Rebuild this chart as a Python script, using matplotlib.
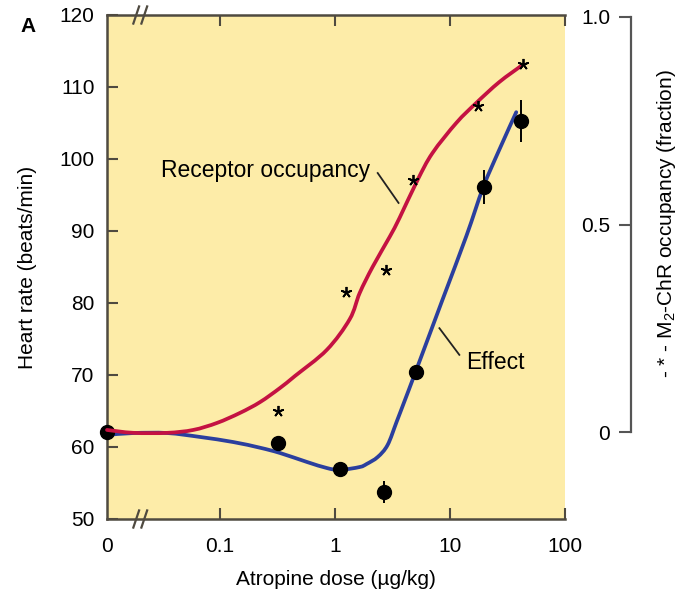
import numpy as np
import matplotlib
matplotlib.use("Agg")
import matplotlib.pyplot as plt
from matplotlib.path import Path
from matplotlib.patches import PathPatch

plt.rcParams['font.family'] = ['Liberation Sans', 'DejaVu Sans']
plt.rcParams['mathtext.fontset'] = 'custom'
plt.rcParams['mathtext.rm'] = 'Liberation Sans'
plt.rcParams['mathtext.default'] = 'regular'

# dose "0" is drawn at the left edge of the log axis
ZERO_POS = 0.0105

# measured heart rate (effect), dots with error bars
effect_dose = [ZERO_POS, 0.32, 1.12, 2.66, 5.1, 19.9, 41.7]
effect_hr = [62.1, 60.6, 56.9, 53.75, 70.4, 96.1, 105.3]
effect_err = [0, 0, 0, 1.5, 0, 2.4, 2.9]

# receptor occupancy measurements (stars)
occ_dose = [0.32, 1.26, 2.76, 4.8, 17.7, 43.0]
occ_frac = [0.051, 0.337, 0.39, 0.607, 0.786, 0.887]

# fitted effect curve (blue)
effect_curve_dose = [ZERO_POS, 0.0178, 0.0351, 0.0678, 0.131, 0.224, 0.334, 0.573,
                     0.853, 1.105, 1.646, 1.892, 2.36, 2.876, 3.44, 4.04, 5.03, 8.61,
                     13.9, 19.5, 26.8, 37.7]
effect_curve_hr = [61.67, 61.94, 61.94, 61.39, 60.69, 59.9, 59.17, 57.92,
                   57.08, 56.81, 57.22, 57.64, 58.61, 60.28, 63.47, 66.39, 70.42, 80.42,
                   89.3, 96.1, 101.25, 106.5]

# fitted occupancy curve (red)
occ_curve_dose = [ZERO_POS, 0.0178, 0.0351, 0.059, 0.095, 0.150, 0.224, 0.334, 0.451,
                  0.853, 1.349, 1.646, 2.133, 2.994, 3.655, 5.233, 7.05, 11.39,
                  16.96, 26.8, 42.5]
occ_curve_frac = [0.005, -0.002, -0.002, 0.005, 0.022, 0.046, 0.072, 0.106, 0.135,
                  0.198, 0.272, 0.335, 0.398, 0.470, 0.516, 0.607, 0.672, 0.745,
                  0.793, 0.843, 0.884]

x_ticks = [ZERO_POS, 0.1, 1, 10, 100]
x_labels = ['0', '0.1', '1', '10', '100']
hr_ticks = [50, 60, 70, 80, 90, 100, 110, 120]
occ_ticks = [0, 0.5, 1.0]
occ_labels = ['0', '0.5', '1.0']

bg = '#FDECA8'
spine_c = '#4f4a40'
red = '#C41242'
blue = '#2B3F9E'
fs = 15
fs_note = 16.5


def smooth_path(xs, ys):
    # bezier path through the points (catmull-rom tangents, in log-x space)
    lx = np.log10(xs)
    y = np.asarray(ys, float)
    p = np.column_stack([lx, y])
    pp = np.vstack([p[0], p, p[-1]])
    verts = [p[0]]
    codes = [Path.MOVETO]
    for i in range(len(p) - 1):
        c1 = pp[i + 1] + (pp[i + 2] - pp[i]) / 6
        c2 = pp[i + 2] - (pp[i + 3] - pp[i + 1]) / 6
        verts += [c1, c2, p[i + 1]]
        codes += [Path.CURVE4] * 3
    verts = np.array(verts)
    verts[:, 0] = 10 ** verts[:, 0]
    return Path(verts, codes)


fig = plt.figure(figsize=(6.81, 5.93), dpi=100)
L, B, W, H = 107/681, 74/593, 458/681, 504/593
ax = fig.add_axes([L, B, W, H])
ax.set_facecolor(bg)
ax.set_xscale('log')
ax.set_xlim(ZERO_POS, 100)
ax.set_ylim(50, 120)
ax.minorticks_off()
ax.set_xticks(x_ticks)
ax.set_xticklabels(x_labels)
ax.set_yticks(hr_ticks)
ax.tick_params(direction='in', length=8, width=1.5, color=spine_c,
               labelsize=fs, top=True)
ax.tick_params(axis='x', pad=13)
ax.tick_params(axis='y', pad=9)
ax.xaxis.get_major_ticks()[0].tick1line.set_visible(False)
ax.xaxis.get_major_ticks()[0].tick2line.set_visible(False)
ax.spines['right'].set_visible(False)
for s in ['left', 'bottom', 'top']:
    ax.spines[s].set_color(spine_c)
    ax.spines[s].set_linewidth(1.8)
ax.set_ylabel('Heart rate (beats/min)', fontsize=fs, labelpad=16)
ax.set_xlabel('Atropine dose (\u00b5g/kg)', fontsize=fs, labelpad=10)

# occupancy scale shares the x axis
occ_lim = (-0.2096, 1.0048)
ax2 = ax.twinx()
ax2.set_ylim(*occ_lim)
ax2.set_xlim(ZERO_POS, 100)
ax2.axis('off')

ax2.add_patch(PathPatch(smooth_path(occ_curve_dose, occ_curve_frac), fill=False,
                        edgecolor=red, lw=2.7, capstyle='round', clip_on=False, zorder=2))
ax.add_patch(PathPatch(smooth_path(effect_curve_dose, effect_curve_hr), fill=False,
                       edgecolor=blue, lw=2.7, capstyle='round', clip_on=False, zorder=2))
ax.errorbar(effect_dose, effect_hr, yerr=effect_err, fmt='o', color='black',
            ms=10, elinewidth=1.4, capsize=0, clip_on=False, zorder=4)
ax2.plot(occ_dose, occ_frac, linestyle='none', marker=(5, 2, 0), ms=8, mew=1.3,
         color='black', zorder=5)

# axis break marks
for yy in (0, 1):
    for dx in (-0.035, 0.035):
        xc = 10 ** (-1.69 + dx)
        ax.plot([xc / 10 ** 0.025, xc * 10 ** 0.025], [yy - 0.017, yy + 0.017],
                transform=ax.get_xaxis_transform(), color=spine_c, lw=1.6,
                clip_on=False, zorder=6)

# labels with leader lines
ax2.text(2.01, 0.631, 'Receptor occupancy', fontsize=fs_note, ha='right', va='center')
ax2.plot([2.36, 3.58], [0.624, 0.552], color='#222222', lw=1.3)
ax.text(13.9, 71.8, 'Effect', fontsize=fs_note, ha='left', va='center')
ax.plot([8.11, 12.08], [76.5, 72.8], color='#222222', lw=1.3)

# separate right-hand occupancy axis
ax3 = fig.add_axes([631/681, B, 0.0001, H])
ax3.set_ylim(*occ_lim)
ax3.set_xticks([])
for s in ['right', 'top', 'bottom']:
    ax3.spines[s].set_visible(False)
ax3.spines['left'].set_bounds(0, 1)
ax3.spines['left'].set_color('#555555')
ax3.spines['left'].set_linewidth(1.6)
ax3.set_facecolor('none')
ax3.set_yticks(occ_ticks)
ax3.set_yticklabels(occ_labels)
ax3.tick_params(axis='y', direction='out', length=9, width=1.5, color='#555555',
                labelsize=fs, pad=6)

fig.text(666/681, 1 - 224/593, '- * - M$_2$-ChR occupancy (fraction)',
         rotation=90, ha='center', va='center', fontsize=fs)
fig.text(28/681, 1 - 26/593, 'A', fontsize=15, fontweight='bold',
         ha='center', va='center')

fig.savefig('out.png', dpi=100)
